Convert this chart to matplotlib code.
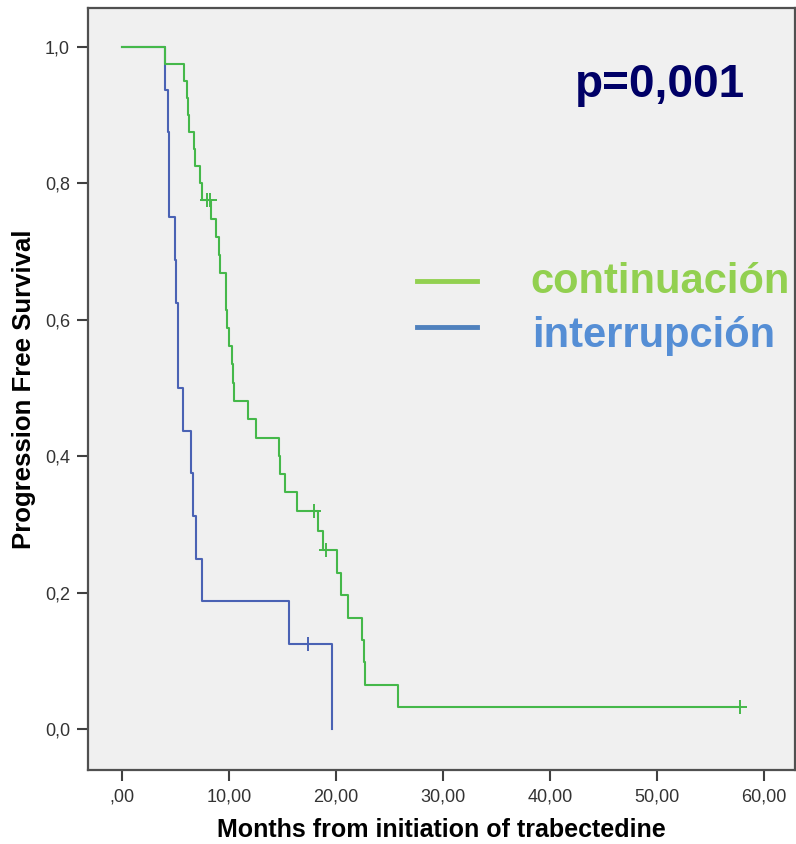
import matplotlib
matplotlib.use("Agg")
import matplotlib.pyplot as plt

# ---- data ----
green_times = [0, 4.0, 5.8, 6.1, 6.2, 6.3, 6.7, 6.8, 7.3, 7.5, 8.3, 8.8, 9.1, 9.2,
               9.7, 9.75, 9.8, 10.0, 10.3, 10.4, 10.5, 11.8, 12.5, 14.7, 14.8, 15.2,
               16.4, 18.3, 18.8, 20.1, 20.5, 21.1, 22.4, 22.6, 22.7, 25.8, 57.8]
green_surv = [1.0, 0.975, 0.95, 0.925, 0.9, 0.875, 0.85, 0.825, 0.80, 0.775, 0.748,
              0.721, 0.695, 0.668, 0.641, 0.614, 0.588, 0.561, 0.535, 0.508, 0.481,
              0.454, 0.427, 0.401, 0.374, 0.347, 0.320, 0.291, 0.262, 0.229, 0.196,
              0.163, 0.131, 0.098, 0.065, 0.033, 0.033]
green_cens_t = [7.9, 8.2, 17.9, 19.1, 57.8]
green_cens_s = [0.775, 0.775, 0.320, 0.262, 0.033]

blue_times = [0, 4.0, 4.3, 4.35, 4.4, 4.95, 5.0, 5.2, 5.25, 5.7, 6.45, 6.6, 6.9, 7.5,
              15.6, 19.6]
blue_surv = [1.0, 0.9375, 0.875, 0.8125, 0.75, 0.6875, 0.625, 0.5625, 0.5, 0.4375,
             0.375, 0.3125, 0.25, 0.1875, 0.125, 0.0]
blue_cens_t = [17.4]
blue_cens_s = [0.125]

x_ticks = [0, 10, 20, 30, 40, 50, 60]
x_labels = [",00", "10,00", "20,00", "30,00", "40,00", "50,00", "60,00"]
y_ticks = [0.0, 0.2, 0.4, 0.6, 0.8, 1.0]
y_labels = ["0,0", "0,2", "0,4", "0,6", "0,8", "1,0"]

legend_names = ["continuación", "interrupción"]
p_text = "p=0,001"

# ---- styles ----
curve_green = "#45b84a"
curve_blue = "#4a62b4"
leg_green = "#92d050"
leg_blue = "#558ed5"
leg_blue_line = "#4f81bd"
sans = ["Liberation Sans", "DejaVu Sans"]

fig = plt.figure(figsize=(7.96, 8.44), dpi=100)
ax = fig.add_axes([88 / 796, 1 - 770 / 844, (795 - 88) / 796, (770 - 8) / 844])
ax.set_facecolor("#f0f0f0")

ax.step(blue_times, blue_surv, where="post", color=curve_blue, lw=1.5, zorder=3)
ax.step(green_times, green_surv, where="post", color=curve_green, lw=1.5, zorder=4)
ax.plot(blue_cens_t, blue_cens_s, ls="none", marker="+", ms=10, mew=1.4,
        color=curve_blue, zorder=5)
ax.plot(green_cens_t, green_cens_s, ls="none", marker="+", ms=10, mew=1.4,
        color=curve_green, zorder=5)

ax.set_xlim(-3.18, 62.9)
ax.set_ylim(-0.060, 1.057)
ax.set_xticks(x_ticks)
ax.set_xticklabels(x_labels)
ax.set_yticks(y_ticks)
ax.set_yticklabels(y_labels)

for s in ax.spines.values():
    s.set_color("#505050")
    s.set_linewidth(1.6)
ax.tick_params(direction="out", length=8, width=1.5, color="#404040",
               labelsize=13, labelcolor="#333333", pad=5)
for lab in ax.get_xticklabels() + ax.get_yticklabels():
    lab.set_family(sans)

ax.set_xlabel("Months from initiation of trabectedine", fontsize=18,
              fontweight="bold", family=sans, labelpad=9)
ax.set_ylabel("Progression Free Survival", fontsize=18.5, fontweight="bold",
              family=sans, labelpad=6)

# p-value
fig.text(575 / 796, 1 - 97 / 844, p_text, fontsize=33, fontweight="bold",
         color="#000066", family=sans, ha="left", va="baseline")

# manual legend
fig.add_artist(plt.Line2D([417 / 796, 477 / 796], [1 - 281 / 844, 1 - 281 / 844],
                          color=leg_green, lw=3.5, transform=fig.transFigure))
fig.add_artist(plt.Line2D([417 / 796, 477 / 796], [1 - 327 / 844, 1 - 327 / 844],
                          color=leg_blue_line, lw=3.5, transform=fig.transFigure))
fig.text(530 / 796, 1 - 293 / 844, legend_names[0], fontsize=30, fontweight="bold",
         color=leg_green, family=sans, ha="left", va="baseline")
fig.text(532 / 796, 1 - 347 / 844, legend_names[1], fontsize=30, fontweight="bold",
         color=leg_blue, family=sans, ha="left", va="baseline")

fig.savefig("out.png", dpi=100, facecolor="white")
